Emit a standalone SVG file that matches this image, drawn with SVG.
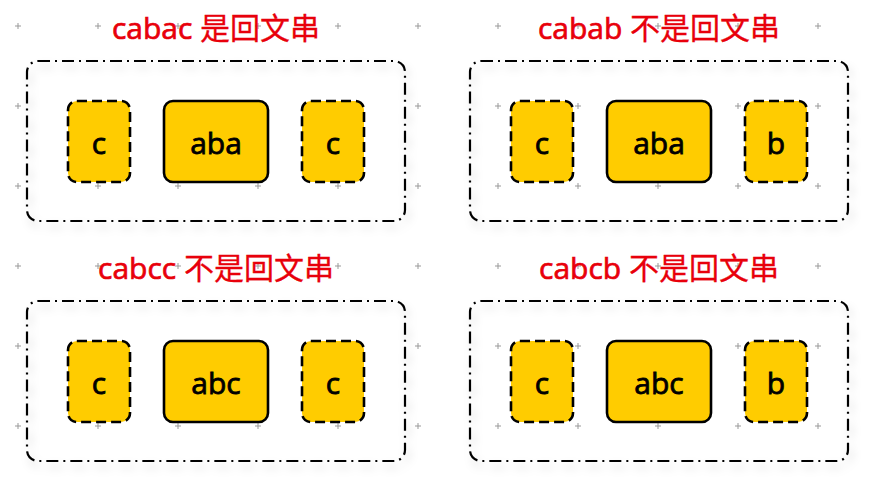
<svg xmlns="http://www.w3.org/2000/svg" width="876" height="488" viewBox="0 0 876 488">
<defs>
<filter id="sh" x="-10%" y="-10%" width="130%" height="140%">
<feDropShadow dx="3" dy="6" stdDeviation="4" flood-color="#000" flood-opacity="0.18"/>
</filter>
<g id="plus"><path d="M-3,0H3M0,-3V3" stroke="#999" stroke-width="1"/></g>
</defs>
<style>
.title{font-family:"Open Sans","Noto Sans CJK SC",sans-serif;font-size:30px;font-weight:400;fill:#e8000b;stroke:#e8000b;stroke-width:0.7;text-anchor:middle}
.cjk{font-family:"Noto Sans CJK SC",sans-serif;font-weight:400;stroke-width:0.3}
.lbl{font-family:"Open Sans","Noto Sans CJK SC",sans-serif;font-size:30px;font-weight:400;fill:#000;stroke:#000;stroke-width:0.8;text-anchor:middle}
.cont{fill:none;stroke:#000;stroke-width:2.2;stroke-dasharray:12 5 2 5;filter:url(#sh)}
.box{fill:#ffcc00;stroke:#000;stroke-width:2.6}
.dash{stroke-dasharray:10 5}
</style>
<rect width="876" height="488" fill="#fff"/>
<g id="grid">
<use href="#plus" x="18" y="26"/><use href="#plus" x="98" y="26"/><use href="#plus" x="178" y="26"/><use href="#plus" x="258" y="26"/><use href="#plus" x="338" y="26"/><use href="#plus" x="418" y="26"/><use href="#plus" x="498" y="26"/><use href="#plus" x="578" y="26"/><use href="#plus" x="658" y="26"/><use href="#plus" x="738" y="26"/><use href="#plus" x="818" y="26"/>
<use href="#plus" x="18" y="106"/><use href="#plus" x="418" y="106"/><use href="#plus" x="498" y="106"/><use href="#plus" x="578" y="106"/><use href="#plus" x="738" y="106"/><use href="#plus" x="818" y="106"/>
<use href="#plus" x="18" y="186"/><use href="#plus" x="98" y="186"/><use href="#plus" x="178" y="186"/><use href="#plus" x="258" y="186"/><use href="#plus" x="338" y="186"/><use href="#plus" x="418" y="186"/><use href="#plus" x="498" y="186"/><use href="#plus" x="578" y="186"/><use href="#plus" x="658" y="186"/><use href="#plus" x="738" y="186"/><use href="#plus" x="818" y="186"/>
<use href="#plus" x="18" y="266"/><use href="#plus" x="98" y="266"/><use href="#plus" x="178" y="266"/><use href="#plus" x="258" y="266"/><use href="#plus" x="338" y="266"/><use href="#plus" x="418" y="266"/><use href="#plus" x="498" y="266"/><use href="#plus" x="578" y="266"/><use href="#plus" x="658" y="266"/><use href="#plus" x="738" y="266"/><use href="#plus" x="818" y="266"/>
<use href="#plus" x="18" y="346"/><use href="#plus" x="418" y="346"/><use href="#plus" x="498" y="346"/><use href="#plus" x="578" y="346"/><use href="#plus" x="738" y="346"/><use href="#plus" x="818" y="346"/>
<use href="#plus" x="18" y="426"/><use href="#plus" x="98" y="426"/><use href="#plus" x="178" y="426"/><use href="#plus" x="258" y="426"/><use href="#plus" x="338" y="426"/><use href="#plus" x="418" y="426"/><use href="#plus" x="498" y="426"/><use href="#plus" x="578" y="426"/><use href="#plus" x="658" y="426"/><use href="#plus" x="738" y="426"/><use href="#plus" x="818" y="426"/>
</g>

<g id="p1">
<text class="title" x="216" y="39">cabac <tspan class="cjk">是回文串</tspan></text>
<rect class="cont" x="27" y="61" width="378" height="160" rx="11"/>
<g id="p1a"><rect class="box dash" x="68" y="101" width="62" height="81" rx="9"/><text class="lbl" x="99" y="154">c</text></g>
<g id="p1b"><rect class="box" x="164" y="101" width="104" height="81" rx="9"/><text class="lbl" x="216" y="154">aba</text></g>
<g id="p1c"><rect class="box dash" x="302" y="101" width="62" height="81" rx="9"/><text class="lbl" x="333" y="154">c</text></g>
</g>

<g id="p2">
<text class="title" x="659" y="39">cabab <tspan class="cjk">不是回文串</tspan></text>
<rect class="cont" x="470" y="61" width="378" height="160" rx="11"/>
<g id="p2a"><rect class="box dash" x="511" y="101" width="62" height="81" rx="9"/><text class="lbl" x="542" y="154">c</text></g>
<g id="p2b"><rect class="box" x="607" y="101" width="104" height="81" rx="9"/><text class="lbl" x="659" y="154">aba</text></g>
<g id="p2c"><rect class="box dash" x="745" y="101" width="62" height="81" rx="9"/><text class="lbl" x="776" y="154">b</text></g>
</g>

<g id="p3">
<text class="title" x="216" y="279">cabcc <tspan class="cjk">不是回文串</tspan></text>
<rect class="cont" x="27" y="301" width="378" height="160" rx="11"/>
<g id="p3a"><rect class="box dash" x="68" y="341" width="62" height="81" rx="9"/><text class="lbl" x="99" y="394">c</text></g>
<g id="p3b"><rect class="box" x="164" y="341" width="104" height="81" rx="9"/><text class="lbl" x="216" y="394">abc</text></g>
<g id="p3c"><rect class="box dash" x="302" y="341" width="62" height="81" rx="9"/><text class="lbl" x="333" y="394">c</text></g>
</g>

<g id="p4">
<text class="title" x="659" y="279">cabcb <tspan class="cjk">不是回文串</tspan></text>
<rect class="cont" x="470" y="301" width="378" height="160" rx="11"/>
<g id="p4a"><rect class="box dash" x="511" y="341" width="62" height="81" rx="9"/><text class="lbl" x="542" y="394">c</text></g>
<g id="p4b"><rect class="box" x="607" y="341" width="104" height="81" rx="9"/><text class="lbl" x="659" y="394">abc</text></g>
<g id="p4c"><rect class="box dash" x="745" y="341" width="62" height="81" rx="9"/><text class="lbl" x="776" y="394">b</text></g>
</g>
<g id="connectors"/>
</svg>
